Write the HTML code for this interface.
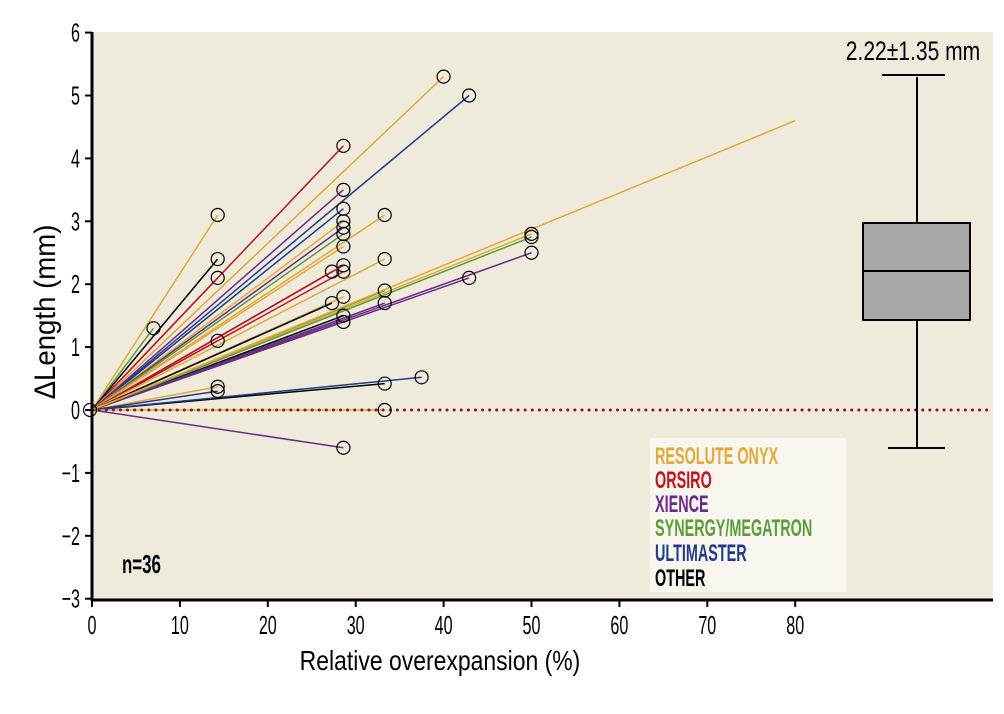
<!DOCTYPE html>
<html><head><meta charset="utf-8"><style>
html,body{margin:0;padding:0;background:#fff;}
svg text{font-family:"Liberation Sans",sans-serif;}
</style></head><body>
<svg id="s" width="1004" height="709" xmlns="http://www.w3.org/2000/svg">
<rect x="92" y="32" width="901" height="568" fill="#efebdc"/>
<g id="lines"></g>
<line x1="92" y1="410" x2="993" y2="410" stroke="#8b1a1a" stroke-width="3" stroke-dasharray="0.1 7" stroke-linecap="round"/>
<g id="circ"></g>
<line x1="917" y1="77" x2="917" y2="223" stroke="#000" stroke-width="2"/>
<line x1="917" y1="320" x2="917" y2="448" stroke="#000" stroke-width="2"/>
<line x1="882" y1="75" x2="945" y2="75" stroke="#000" stroke-width="2"/>
<line x1="888" y1="448" x2="945" y2="448" stroke="#000" stroke-width="2"/>
<rect x="863" y="223" width="107" height="97" fill="#a8a8a8" stroke="#000" stroke-width="2"/>
<line x1="863" y1="271" x2="970" y2="271" stroke="#000" stroke-width="2"/>
<text x="913" y="60" font-size="27" text-anchor="middle" transform="translate(913,0) scale(0.78,1) translate(-913,0)">2.22±1.35 mm</text>
<rect x="650" y="438" width="196" height="154" fill="#f8f6ee"/>
<g font-size="24" font-weight="bold" transform="translate(655,0) scale(0.6,1) translate(-655,0)">
<text x="655" y="464" fill="#e0a93a">RESOLUTE ONYX</text>
<text x="655" y="488" fill="#c0141e">ORSIRO</text>
<text x="655" y="512" fill="#6a2a8a">XIENCE</text>
<text x="655" y="536" fill="#5a9e3a">SYNERGY/MEGATRON</text>
<text x="655" y="561" fill="#1f3c8c">ULTIMASTER</text>
<text x="655" y="586" fill="#000">OTHER</text>
</g>
<text x="122" y="573" font-size="26" font-weight="bold" transform="translate(122,0) scale(0.65,1) translate(-122,0)">n=36</text>
<line x1="92" y1="32" x2="92" y2="601" stroke="#000" stroke-width="3"/>
<line x1="91" y1="600" x2="993" y2="600" stroke="#000" stroke-width="3"/>
<g id="ticks" font-size="26"></g>
<text x="440" y="670" font-size="28" text-anchor="middle" transform="translate(440,0) scale(0.82,1) translate(-440,0)">Relative overexpansion (%)</text>
<text transform="translate(55,312) rotate(-90) scale(0.92,1)" font-size="30" text-anchor="middle">ΔLength (mm)</text>
</svg>
<script>
var X=function(v){return 92+v*8.79},Y=function(v){return 410-v*62.9};
var C={o:"#e0a93a",r:"#c0141e",p:"#6a2a8a",g:"#5a9e3a",b:"#1f3c8c",k:"#000"};
var d=[["o",14.3,3.1],["g",7,1.3],["k",14.3,2.4],["r",14.3,2.1],["o",14.3,1.1],["o",14.3,0.37],["b",14.3,0.3],
["r",28.6,4.2],["o",40,5.3],["b",42.9,5.0],["p",28.6,3.5],["b",28.6,3.2],["o",28.6,3.0],["p",28.6,2.9],["g",28.6,2.8],
["o",28.6,2.6],["o",33.3,3.1],["b",27.3,2.2],["r",28.6,2.3],["r",28.6,2.2],["o",33.3,2.4],["o",28.6,1.8],["k",27.3,1.7],
["k",28.6,1.5],["g",28.6,1.4],["g",33.3,1.9],["p",33.3,1.7],["p",42.9,2.1],["o",50,2.8],["g",50,2.75],["p",50,2.5],
["o",80,4.6,1],["k",33.3,0.42],["b",37.5,0.52],["o",33.3,0],["p",28.6,-0.6]];
var L="",Ci="";
d.forEach(function(e){L+='<line x1="92" y1="410" x2="'+X(e[1])+'" y2="'+Y(e[2])+'" stroke="'+C[e[0]]+'" stroke-width="1.5"/>';
if(!e[3])Ci+='<circle cx="'+X(e[1])+'" cy="'+Y(e[2])+'" r="6.5" fill="none" stroke="#000" stroke-width="1.2"/>';});
Ci+='<circle cx="90" cy="410" r="6.5" fill="none" stroke="#000" stroke-width="1.2"/>';
document.getElementById("lines").innerHTML=L;document.getElementById("circ").innerHTML=Ci;
var T="";
for(var v=-3;v<=6;v++){var y=Y(v);T+='<line x1="85" y1="'+y+'" x2="92" y2="'+y+'" stroke="#000" stroke-width="2"/><text x="80" y="'+(y+9)+'" text-anchor="end" transform="translate(80,0) scale(0.62,1) translate(-80,0)">'+(v<0?'−'+(-v):v)+'</text>';}
for(var v=0;v<=80;v+=10){var x=X(v);T+='<line x1="'+x+'" y1="600" x2="'+x+'" y2="607" stroke="#000" stroke-width="2"/><text x="'+x+'" y="634" text-anchor="middle" transform="translate('+x+',0) scale(0.62,1) translate('+(-x)+',0)">'+v+'</text>';}
document.getElementById("ticks").innerHTML=T;
</script>
</body></html>
